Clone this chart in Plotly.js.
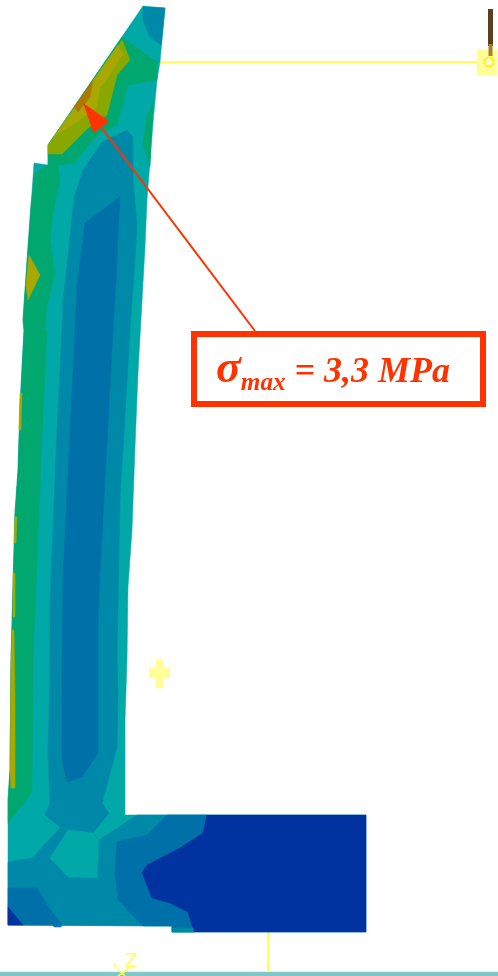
<!DOCTYPE html>
<html><head><meta charset="utf-8">
<script src="https://cdn.plot.ly/plotly-3.0.1.min.js"></script>
<style>html,body{margin:0;padding:0;background:#fff;overflow:hidden}#chart{width:498px;height:976px;filter:blur(0.6px)}</style>
</head><body><div id="chart"></div>
<script>
// Stress band colours, low to high
const navy='#0033A0', blue='#0070A8', tealBlue='#0088A8', teal='#00A8A8', green='#00A870', oliveGreen='#88A800', olive='#A8A800', brown='#A87800';

// Contour regions: vertices
const bodyX=[143,165,160,157,153,150,147,145,142,140,138,135,132,128,127,125,125,366,366,172,172,8,8,10,11,15,18,20,24,23,27,31,34,48,48];
const bodyY=[6,8,62,80,123,167,200,247,300,330,373,447,530,587,660,720,815,815,932,932,926,925,800,770,660,513,470,407,330,320,260,205,163,165,145];
const tipX=[143,165,161,150,143]; const tipY=[7,8,45,37,20];
const greenX=[122,157,157,128,117,100,87,75,58,60,53,50,55,47,45,47,43,35,33,32,8,8,10,11,15,18,20,24,23,27,31,35,48,48];
const greenY=[37,62,80,85,125,133,147,163,165,180,213,240,273,305,330,330,413,617,660,793,823,800,770,660,513,470,407,330,320,260,205,173,165,145];
const greenRightX=[153,147,143,150,152]; const greenRightY=[102,117,143,167,120];
const oliveGreenX=[122,130,117,107,88,62,48,48]; const oliveGreenY=[40,60,75,115,128,154,154,145];
const oliveX=[118,122,105,100,97,82,55]; const oliveY=[45,55,82,87,107,118,136];
const brownX=[93,90,78,74]; const brownY=[80,97,112,107];
const oliveBlobX=[29,40,28,26]; const oliveBlobY=[255,275,300,285];
const strip1X=[20,22,21,19]; const strip1Y=[393,393,430,430];
const strip2X=[15,17,16,14]; const strip2Y=[517,517,543,543];
const strip3X=[13,15,15,13]; const strip3Y=[573,573,617,617];
const strip4X=[12,14,15,15,11,10,11]; const strip4Y=[630,630,697,788,788,770,660];
const coreOuterX=[127,133,133,137,135,130,120,118,117,118,117,102,109,93,60,45,50,48,50,50,57,62,63,68,74,83,102];
const coreOuterY=[130,137,177,227,260,330,500,617,660,693,747,803,813,833,827,815,803,753,670,603,430,330,300,257,197,170,142];
const coreInnerX=[120,118,116,113,100,98,98,98,82,67,62,62,63,70,75,77,85];
const coreInnerY=[197,233,283,330,573,617,660,753,777,782,760,660,580,430,330,287,223];
const footMidX=[8,32,60,93,99,137,207,194,172,172,8]; const footMidY=[862,858,828,833,840,815,815,932,932,926,925];
const squareX=[68,93,99,97,68,50]; const squareY=[830,833,840,878,877,858];
const footBlueX=[167,207,194,172,172,143,118,115,117,147]; const footBlueY=[815,815,932,932,926,926,900,873,842,835];
const footNavyX=[207,366,366,194,188,170,152,142,147,180,203]; const footNavyY=[815,815,932,932,912,903,898,873,865,848,833];
const stepX=[172,193,194,172]; const stepY=[928,928,932,932];
const cornerBlueX=[8,37,47,62,8]; const cornerBlueY=[888,888,905,925,925];
const cornerNavyX=[8,23,8]; const cornerNavyY=[907,925,925];
const speckX=[53,62,61,54]; const speckY=[925,925,927,927];

// Scene furniture
const floorX=[0,498,498,0]; const floorY=[972,972,976,976];
const supportX=[160,478]; const supportY=[62,62];
const postX=[268,268]; const postY=[932,972];
const padX=[477,497,497,477]; const padY=[50,50,75,75];
const rodX=[490.5,490.5]; const rodY=[9,46];
const rodFootX=[490.5,490.5]; const rodFootY=[44,56];
const pinX=[489]; const pinY=[62];
const plusX=[156,163,163,170,170,163,163,156,156,149,149,156]; const plusY=[660,660,668,668,678,678,688,688,678,678,668,668];
const triadAX=[113,125]; const triadAY=[964,976];
const triadBX=[133,118]; const triadBY=[966,976];
const arrowX=[255,83]; const arrowY=[331,103];

const sigma='σ', subscript='max', rest=' = 3,3 MPa';
const red='#FF3300';

function poly(x,y,c){return {x:x.concat(x[0]),y:y.concat(y[0]),mode:'lines',fill:'toself',fillcolor:c,line:{color:c,width:0.5},hoverinfo:'skip',showlegend:false};}
function line(x,y,c,w){return {x:x,y:y,mode:'lines',line:{color:c,width:w},hoverinfo:'skip',showlegend:false};}

const traces=[
 poly(floorX,floorY,'#80C8C8'),
 line(supportX,supportY,'#FFFF55',2),
 line(postX,postY,'#FFFF55',2),
 poly(padX,padY,'#FFFF99'),
 line(rodX,rodY,'#5A4020',5),
 line(rodFootX,rodFootY,'#A88030',4),
 {x:pinX,y:pinY,mode:'markers',marker:{size:9,color:'#FFFFCC',line:{color:'#FFEE22',width:2}},hoverinfo:'skip',showlegend:false},
 poly(plusX,plusY,'#FFFF99'),
 line(triadAX,triadAY,'#FFFF55',1.5),
 line(triadBX,triadBY,'#FFFF55',1.5),
 poly(bodyX,bodyY,teal),
 poly(tipX,tipY,tealBlue),
 poly(greenX,greenY,green),
 poly(greenRightX,greenRightY,green),
 poly(oliveGreenX,oliveGreenY,oliveGreen),
 poly(oliveX,oliveY,olive),
 poly(brownX,brownY,brown),
 poly(oliveBlobX,oliveBlobY,olive),
 poly(strip1X,strip1Y,olive),
 poly(strip2X,strip2Y,olive),
 poly(strip3X,strip3Y,olive),
 poly(strip4X,strip4Y,olive),
 poly(coreOuterX,coreOuterY,tealBlue),
 poly(coreInnerX,coreInnerY,blue),
 poly(footMidX,footMidY,tealBlue),
 poly(squareX,squareY,teal),
 poly(footBlueX,footBlueY,blue),
 poly(footNavyX,footNavyY,navy),
 poly(stepX,stepY,tealBlue),
 poly(cornerBlueX,cornerBlueY,blue),
 poly(cornerNavyX,cornerNavyY,navy),
 poly(speckX,speckY,'#0070C8'),
 {x:arrowX,y:arrowY,mode:'lines+markers',line:{color:red,width:2},
  marker:{symbol:['circle','arrow'],angleref:'previous',size:[0,32],opacity:1,color:red,line:{width:0}},hoverinfo:'skip',showlegend:false}
];

const layout={
 width:498,height:976,margin:{l:0,r:0,t:0,b:0},
 paper_bgcolor:'#fff',plot_bgcolor:'#fff',showlegend:false,
 xaxis:{range:[0,498],visible:false,fixedrange:true},
 yaxis:{range:[976,0],visible:false,fixedrange:true},
 shapes:[{type:'rect',xref:'x',yref:'y',x0:194,x1:483,y0:334,y1:404,line:{color:red,width:6},fillcolor:'#fff',layer:'above'}],
 annotations:[
  {xref:'x',yref:'y',x:333,y:368,
   text:'<b><i><span style="font-size:46px">'+sigma+'</span><sub>'+subscript+'</sub>'+rest+'</i></b>',
   showarrow:false,font:{family:'Liberation Serif',size:36,color:red}},
  {xref:'x',yref:'y',x:131,y:960,text:'Z',showarrow:false,font:{family:'Liberation Sans',size:20,color:'#FFFF55'}}
 ]
};
Plotly.newPlot('chart',traces,layout,{displayModeBar:false,staticPlot:true});
</script></body></html>
